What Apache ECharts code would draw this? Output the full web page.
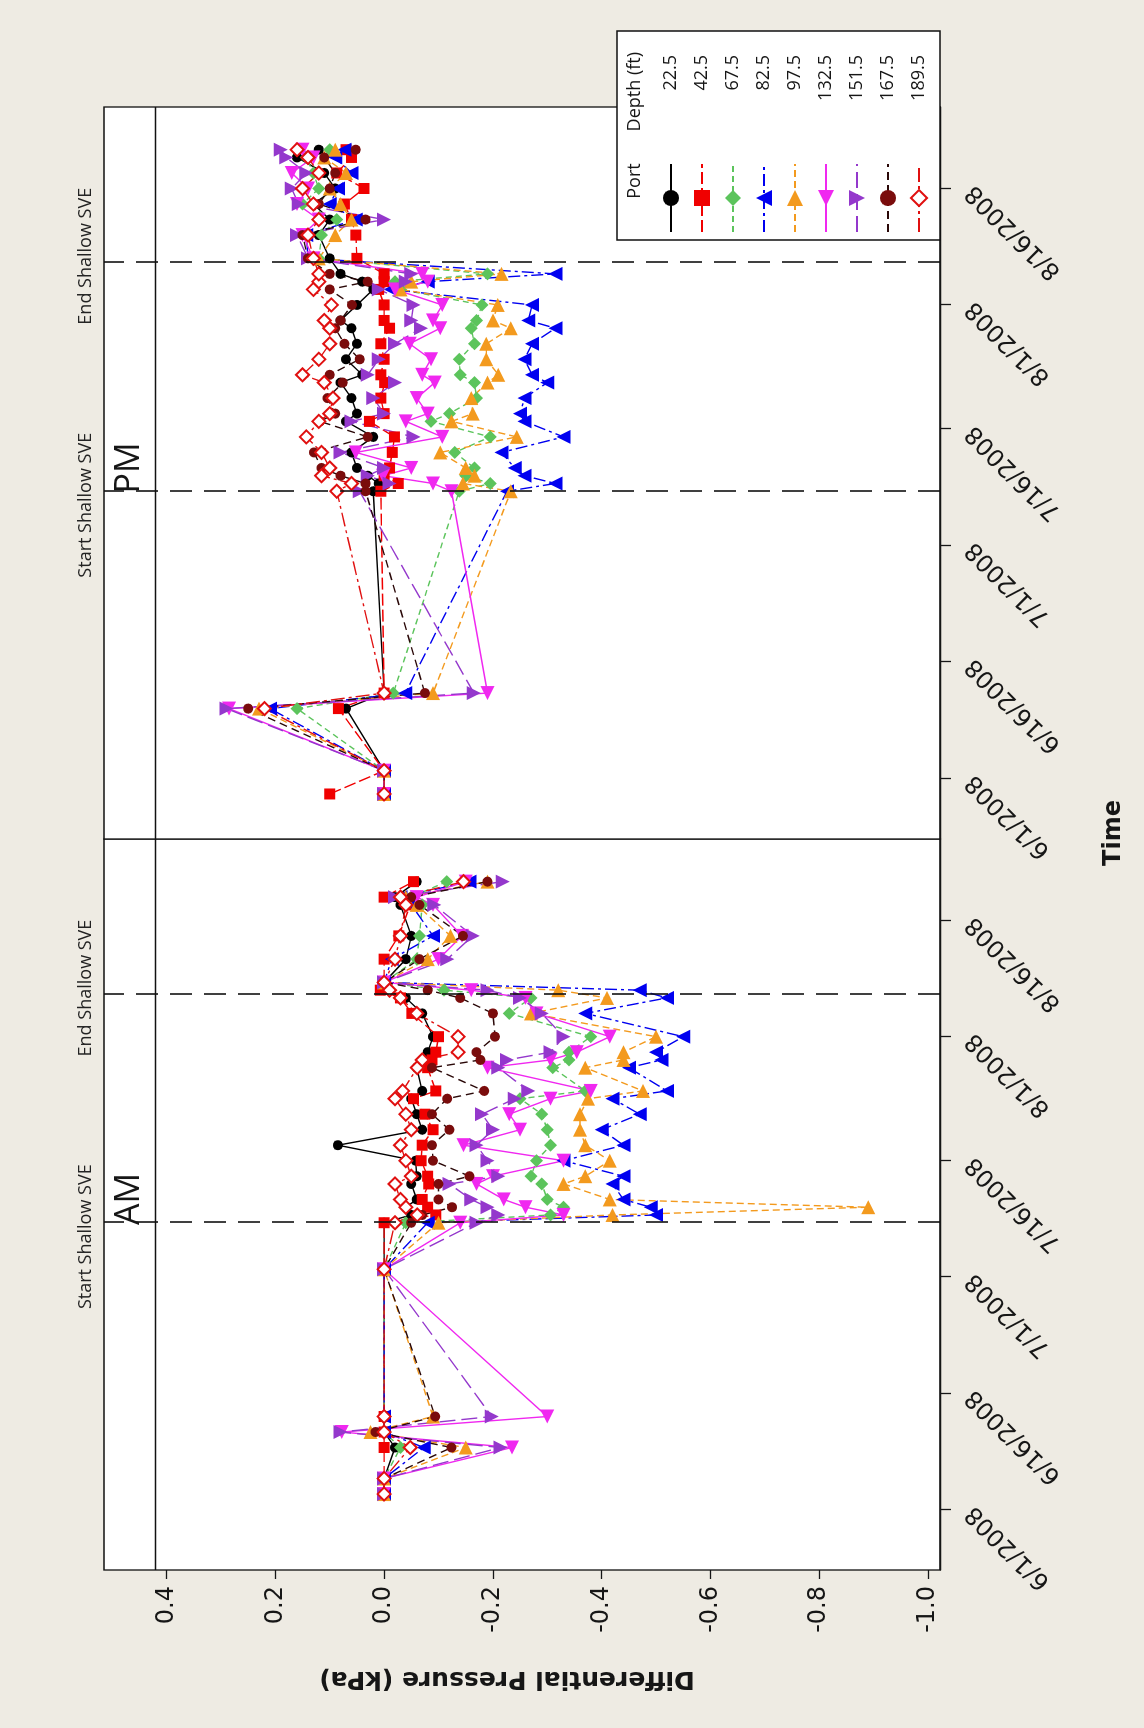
<!DOCTYPE html>
<html>
<head>
<meta charset="utf-8">
<script src="https://cdn.jsdelivr.net/npm/echarts@6/dist/echarts.min.js"></script>
<style>
  html, body { margin: 0; padding: 0; overflow: hidden; background: #eeebe3; }
  /* chart is laid out landscape, then turned a quarter turn counter-clockwise */
  #chart {
    position: absolute; left: 0; top: 0;
    width: 1728px; height: 1144px;
    transform-origin: 0 0;
    transform: translateY(1728px) rotate(-90deg);
  }
</style>
</head>
<body>
<div id="chart"></div>
<script>
// ---- data ----
const DEPTHS = ['22.5', '42.5', '67.5', '82.5', '97.5', '132.5', '151.5', '167.5', '189.5'];
const TICK_DATES = ['2008-06-01', '2008-06-16', '2008-07-01', '2008-07-16', '2008-08-01', '2008-08-16'];
const Y_TICKS = [0.4, 0.2, 0, -0.2, -0.4, -0.6, -0.8, -1.0];
const SVE_START = '2008-07-08';
const SVE_END = '2008-08-06T12:00';

const AM_DATES = ['2008-06-03', '2008-06-05', '2008-06-09', '2008-06-11', '2008-06-13', '2008-07-02',
  '2008-07-08', '2008-07-09', '2008-07-10', '2008-07-11', '2008-07-13', '2008-07-14', '2008-07-16',
  '2008-07-18', '2008-07-20', '2008-07-22', '2008-07-24', '2008-07-25', '2008-07-28', '2008-07-29',
  '2008-07-30', '2008-08-01', '2008-08-04', '2008-08-06', '2008-08-07', '2008-08-08', '2008-08-11',
  '2008-08-14', '2008-08-18', '2008-08-19', '2008-08-21'];
const AM_22_5 = [0, 0, -0.02, 0, 0, 0, 0, -0.05, -0.04, -0.06, -0.05, -0.06, -0.058, 0.085, -0.07, -0.06, -0.05, -0.07, -0.06, -0.07, -0.08, -0.09, -0.07, -0.04, 0, 0, -0.04, -0.05, -0.03, -0.02, -0.06];
const AM_42_5 = [0, 0, 0, 0, 0, 0, 0, -0.095, -0.08, -0.07, -0.082, -0.08, -0.068, -0.07, -0.09, -0.075, -0.054, -0.095, -0.08, -0.088, -0.095, -0.10, -0.051, -0.03, 0.007, 0, 0, -0.027, -0.048, 0, -0.054];
const AM_67_5 = [0, 0, -0.03, 0, 0, 0, -0.04, -0.306, -0.33, -0.30, -0.29, -0.27, -0.28, -0.306, -0.30, -0.29, -0.25, -0.37, -0.31, -0.34, -0.34, -0.38, -0.23, -0.27, -0.11, 0, -0.06, -0.065, -0.07, -0.05, -0.115];
const AM_82_5 = [0, 0, -0.073, 0, 0, 0, -0.08, -0.50, -0.49, -0.44, -0.42, -0.44, -0.33, -0.44, -0.40, -0.47, -0.42, -0.52, -0.45, -0.51, -0.50, -0.55, -0.37, -0.52, -0.47, 0, -0.014, -0.09, -0.05, -0.03, -0.157];
const AM_97_5 = [0, 0, -0.15, 0.025, -0.09, 0, -0.10, -0.42, -0.89, -0.415, -0.33, -0.37, -0.415, -0.37, -0.36, -0.36, -0.375, -0.476, -0.37, -0.44, -0.44, -0.50, -0.27, -0.41, -0.32, 0, -0.08, -0.122, -0.06, -0.04, -0.19];
const AM_132_5 = [0, 0, -0.235, 0.078, -0.30, 0, -0.14, -0.33, -0.26, -0.22, -0.17, -0.20, -0.33, -0.146, -0.25, -0.23, -0.306, -0.38, -0.19, -0.306, -0.354, -0.415, -0.28, -0.26, -0.16, 0, -0.10, -0.143, -0.09, -0.06, -0.15];
const AM_151_5 = [0, 0, -0.214, 0.08, -0.198, 0, -0.17, -0.21, -0.19, -0.16, -0.12, -0.21, -0.19, -0.17, -0.20, -0.18, -0.24, -0.265, -0.21, -0.226, -0.306, -0.33, -0.29, -0.25, -0.19, 0, -0.116, -0.163, -0.092, -0.02, -0.218];
const AM_167_5 = [0, 0, -0.124, 0.016, -0.094, 0, -0.05, -0.07, -0.125, -0.10, -0.10, -0.157, -0.09, -0.088, -0.12, -0.088, -0.116, -0.184, -0.088, -0.177, -0.17, -0.204, -0.20, -0.14, -0.08, 0, -0.065, -0.145, -0.065, -0.05, -0.19];
const AM_189_5 = [0, 0, -0.048, 0, 0, 0, -0.02, -0.061, -0.04, -0.03, -0.02, -0.05, -0.04, -0.03, -0.05, -0.04, -0.02, -0.034, -0.061, -0.07, -0.136, -0.136, -0.06, -0.03, -0.01, 0, -0.02, -0.03, -0.04, -0.03, -0.146];

const PM_DATES = ['2008-05-30', '2008-06-02', '2008-06-10', '2008-06-12',
  '2008-07-08', '2008-07-09', '2008-07-10', '2008-07-11', '2008-07-13', '2008-07-15', '2008-07-17',
  '2008-07-18', '2008-07-20', '2008-07-22', '2008-07-23', '2008-07-25', '2008-07-27', '2008-07-29',
  '2008-07-30', '2008-08-01', '2008-08-03', '2008-08-04', '2008-08-05', '2008-08-07', '2008-08-10',
  '2008-08-12', '2008-08-14', '2008-08-16', '2008-08-18', '2008-08-20', '2008-08-21'];
const PM_22_5 = [0, 0, 0.07, 0, 0.02, 0.01, 0.03, 0.05, 0.06, 0.02, 0.07, 0.05, 0.06, 0.08, 0.04, 0.07, 0.05, 0.06, 0.08, 0.05, 0.02, 0.04, 0.08, 0.10, 0.12, 0.10, 0.13, 0.09, 0.11, 0.16, 0.12];
const PM_42_5 = [0.10, 0, 0.084, 0, 0.006, -0.026, 0, -0.01, -0.015, -0.019, 0.027, 0, 0.006, -0.001, 0.006, 0, 0.006, -0.01, 0, 0, 0.01, 0, 0, 0.05, 0.052, 0.06, 0.073, 0.037, 0.087, 0.06, 0.07];
const PM_67_5 = [0, 0, 0.16, -0.017, -0.138, -0.195, -0.15, -0.166, -0.13, -0.195, -0.086, -0.12, -0.17, -0.166, -0.14, -0.138, -0.166, -0.16, -0.17, -0.18, -0.03, -0.02, -0.19, 0.12, 0.115, 0.087, 0.15, 0.12, 0.13, 0.143, 0.10];
const PM_82_5 = [0, 0, 0.21, -0.039, -0.226, -0.315, -0.258, -0.24, -0.216, -0.33, -0.258, -0.25, -0.258, -0.30, -0.272, -0.258, -0.272, -0.315, -0.265, -0.272, -0.012, -0.08, -0.315, 0.14, 0.143, 0.052, 0.10, 0.085, 0.06, 0.09, 0.073];
const PM_97_5 = [0, 0, 0.23, -0.09, -0.233, -0.145, -0.166, -0.15, -0.103, -0.244, -0.124, -0.163, -0.16, -0.19, -0.21, -0.188, -0.188, -0.233, -0.20, -0.209, -0.03, -0.05, -0.216, 0.12, 0.09, 0.06, 0.08, 0.10, 0.07, 0.11, 0.09];
const PM_132_5 = [0, 0, 0.285, -0.19, -0.124, -0.09, 0.002, -0.05, 0.052, -0.107, -0.04, -0.08, -0.06, -0.093, -0.07, -0.086, -0.047, -0.103, -0.09, -0.107, -0.02, -0.08, -0.07, 0.13, 0.15, 0.12, 0.16, 0.14, 0.17, 0.13, 0.15];
const PM_151_5 = [0, 0, 0.29, -0.165, 0.045, -0.01, 0.03, 0, 0.08, -0.054, 0.06, 0, 0.02, -0.02, 0.03, 0.01, -0.02, -0.068, -0.05, -0.054, 0.01, -0.04, -0.05, 0.14, 0.16, 0, 0.157, 0.17, 0.143, 0.18, 0.19];
const PM_167_5 = [0, 0, 0.25, -0.075, 0.034, 0.034, 0.08, 0.115, 0.129, 0.03, 0.118, 0.09, 0.104, 0.076, 0.1, 0.045, 0.073, 0.09, 0.08, 0.059, 0.1, 0.03, 0.1, 0.14, 0.15, 0.034, 0.12, 0.10, 0.09, 0.11, 0.052];
const PM_189_5 = [0, 0, 0.22, 0, 0.087, 0.06, 0.115, 0.10, 0.115, 0.143, 0.12, 0.10, 0.094, 0.11, 0.15, 0.12, 0.10, 0.10, 0.11, 0.097, 0.13, 0.12, 0.12, 0.13, 0.14, 0.12, 0.13, 0.15, 0.12, 0.14, 0.16];

const AM_VALUES = [AM_22_5, AM_42_5, AM_67_5, AM_82_5, AM_97_5, AM_132_5, AM_151_5, AM_167_5, AM_189_5];
const PM_VALUES = [PM_22_5, PM_42_5, PM_67_5, PM_82_5, PM_97_5, PM_132_5, PM_151_5, PM_167_5, PM_189_5];

// ---- look of each port (Minitab-like) ----
const PORT_STYLE = [
  { color: '#000000', symbol: 'circle', rotate: 0, size: 10, dash: 'solid' },
  { color: '#f00000', symbol: 'rect', rotate: 0, size: 11, dash: [12, 4] },
  { color: '#5cc45c', symbol: 'diamond', rotate: 0, size: 13, dash: [6, 4] },
  { color: '#0000f0', symbol: 'triangle', rotate: 0, size: 14, dash: [12, 4, 3, 4] },
  { color: '#f39a1e', symbol: 'triangle', rotate: -90, size: 14, dash: [7, 4] },
  { color: '#f028f0', symbol: 'triangle', rotate: 90, size: 14, dash: 'solid' },
  { color: '#9438cc', symbol: 'triangle', rotate: 180, size: 14, dash: [16, 6] },
  { color: '#7a0c0c', line: '#2a0808', symbol: 'circle', rotate: 0, size: 10, dash: [8, 5] },
  { color: '#e01010', symbol: 'emptyDiamond', rotate: 0, size: 13, dash: [14, 4, 3, 4] }
];

const DAY = 86400000;
const ts = (s) => Date.parse(s.length > 10 ? s + ':00Z' : s + 'T00:00:00Z');
const fmtDate = (v) => {
  const d = new Date(v);
  return (d.getUTCMonth() + 1) + '/' + d.getUTCDate() + '/' + d.getUTCFullYear();
};
const X_MIN = ts('2008-05-24') + 0.2 * DAY;
const X_MAX = ts('2008-08-26') + 0.5 * DAY;
const Y_MIN = -1.022;
const Y_MAX = 0.515;
const STRIP_LINE = 0.424;
const TICKS = TICK_DATES.map(ts);

const TEXT = '#161616';
const SANS = 'DejaVu Sans';
const UI = 'Open Sans';

const chart = echarts.init(document.getElementById('chart'), null, { width: 1728, height: 1144 });

function makeX(gridIndex) {
  return {
    gridIndex,
    type: 'value',
    min: X_MIN,
    max: X_MAX,
    splitLine: { show: false },
    axisLine: { show: true, onZero: false, lineStyle: { color: TEXT, width: 1.3 } },
    axisTick: { customValues: TICKS, length: 11, lineStyle: { color: TEXT, width: 1.3 } },
    axisLabel: {
      customValues: TICKS,
      formatter: fmtDate,
      rotate: 45,
      margin: 30,
      fontSize: 24,
      fontFamily: SANS,
      color: TEXT
    }
  };
}

function makeY(gridIndex, withLabels) {
  const y = {
    gridIndex,
    type: 'value',
    min: Y_MIN,
    max: Y_MAX,
    splitLine: { show: false },
    axisLine: { show: false },
    axisTick: { show: withLabels, customValues: Y_TICKS, length: 9, lineStyle: { color: TEXT, width: 1.3 } },
    axisLabel: {
      show: withLabels,
      customValues: Y_TICKS,
      formatter: (v) => v.toFixed(1),
      margin: 16,
      fontSize: 24,
      fontFamily: SANS,
      color: TEXT
    }
  };
  if (withLabels) {
    Object.assign(y, {
      name: 'Differential Pressure (kPa)',
      nameLocation: 'middle',
      nameRotate: 90,
      nameGap: 96,
      nameTextStyle: { fontSize: 25, fontWeight: 'bold', fontFamily: SANS, color: TEXT, padding: [0, 0, 0, 30] }
    });
  }
  return y;
}

function refLines() {
  const dashed = { type: [22, 12], color: '#111', width: 1.6 };
  const lab = (txt, pad) => ({
    show: true, formatter: txt, position: 'end', distance: 9, padding: pad,
    fontSize: 18, fontFamily: UI, color: '#222'
  });
  return {
    silent: true,
    symbol: ['none', 'none'],
    animation: false,
    data: [
      { xAxis: ts(SVE_START), lineStyle: dashed, label: lab('Start Shallow SVE', [0, 28, 0, 0]) },
      { xAxis: ts(SVE_END), lineStyle: dashed, label: lab('End Shallow SVE', [0, 0, 0, 12]) },
      { yAxis: STRIP_LINE, lineStyle: { type: 'solid', color: '#111', width: 1.3 }, label: { show: false } }
    ]
  };
}

function makeSeries(panel, dates, valueSets) {
  const times = dates.map(ts);
  return valueSets.map((vals, k) => {
    const st = PORT_STYLE[k];
    const s = {
      name: DEPTHS[k],
      type: 'line',
      xAxisIndex: panel,
      yAxisIndex: panel,
      data: vals.map((v, i) => [times[i], v]),
      symbol: st.symbol,
      symbolSize: st.size,
      symbolRotate: st.rotate,
      showSymbol: true,
      clip: false,
      itemStyle: { color: st.color, borderColor: st.color, borderWidth: st.symbol === 'emptyDiamond' ? 1.6 : 0 },
      lineStyle: { color: st.line || st.color, width: 1.4, type: st.dash },
      emphasis: { disabled: true }
    };
    if (k === 0) s.markLine = refLines();
    return s;
  });
}

const option = {
  animation: false,
  backgroundColor: '#eeebe3',
  title: [
    { text: 'AM', left: 524, top: 107, textAlign: 'center', textStyle: { fontSize: 34, fontWeight: 'normal', fontFamily: UI, color: TEXT } },
    { text: 'PM', left: 1255, top: 107, textAlign: 'center', textStyle: { fontSize: 34, fontWeight: 'normal', fontFamily: UI, color: TEXT } },
    { text: 'Time', left: 890, top: 1097, textAlign: 'center', textStyle: { fontSize: 24, fontWeight: 'bold', fontFamily: SANS, color: TEXT } },
    { text: 'Port', left: 1542, top: 621, textAlign: 'center', textStyle: { fontSize: 18, fontWeight: 'normal', fontFamily: UI, color: TEXT } },
    { text: 'Depth (ft)', left: 1671, top: 621, textAlign: 'right', textStyle: { fontSize: 18, fontWeight: 'normal', fontFamily: UI, color: TEXT } }
  ],
  legend: {
    data: DEPTHS,
    orient: 'vertical',
    left: 1488,
    top: 617,
    padding: [45, 24, 12, 7],
    itemWidth: 68,
    itemHeight: 20,
    itemGap: 13,
    backgroundColor: '#ffffff',
    borderColor: '#111',
    borderWidth: 1.5,
    selectedMode: false,
    formatter: (n) => '{v|' + n + '}',
    textStyle: {
      fontSize: 18, fontFamily: UI, color: TEXT,
      rich: { v: { width: 104, align: 'right', fontSize: 18, fontFamily: UI, color: TEXT } }
    }
  },
  grid: [
    { left: 158, top: 104, width: 731, height: 836, show: true, backgroundColor: '#ffffff', borderColor: '#111', borderWidth: 1.3 },
    { left: 889, top: 104, width: 732, height: 836, show: true, backgroundColor: '#ffffff', borderColor: '#111', borderWidth: 1.3 }
  ],
  xAxis: [makeX(0), makeX(1)],
  yAxis: [makeY(0, true), makeY(1, false)],
  series: [
    ...makeSeries(0, AM_DATES, AM_VALUES),
    ...makeSeries(1, PM_DATES, PM_VALUES)
  ]
};

chart.setOption(option);
</script>
</body>
</html>
